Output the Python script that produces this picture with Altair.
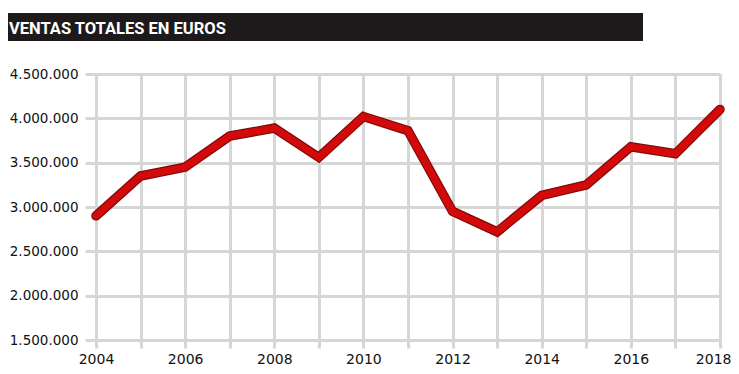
import altair as alt
import pandas as pd

years = list(range(2004, 2019))
ventas = [2900000, 3350000, 3450000, 3800000, 3890000, 3560000, 4020000, 3860000,
          2950000, 2720000, 3130000, 3250000, 3680000, 3600000, 4100000]
y_ticks = [1500000, 2000000, 2500000, 3000000, 3500000, 4000000, 4500000]
title_text = "VENTAS TOTALES EN EUROS"

df = pd.DataFrame({"year": years, "ventas": ventas})

x_enc = alt.X("year:Q", scale=alt.Scale(domain=[2004, 2018], nice=False, zero=False),
              axis=alt.Axis(values=years, title=None, domain=False, grid=True,
                            gridColor="#d6d6d6", gridWidth=3, tickColor="#d6d6d6",
                            tickWidth=3, tickSize=8, labelFontSize=14, labelFont="DejaVu Sans",
                            labelColor="#111111", labelPadding=4, labelFlush=False,
                            labelAlign={"condition": {"test": "datum.value == 2018", "value": "right"},
                                        "value": "center"},
                            labelOffset={"condition": {"test": "datum.value == 2018", "value": 11},
                                         "value": 0},
                            labelExpr="datum.value % 2 == 0 ? datum.value : ''"))
y_enc = alt.Y("ventas:Q", scale=alt.Scale(domain=[1500000, 4500000], nice=False, zero=False),
              axis=alt.Axis(values=y_ticks, title=None, domain=False, grid=True,
                            gridColor="#d6d6d6", gridWidth=3, tickColor="#d6d6d6",
                            tickWidth=3, tickSize=11, labelFontSize=13.5, labelFont="DejaVu Sans",
                            labelColor="#111111", labelPadding=7,
                            labelExpr="replace(format(datum.value, ','), regexp(',', 'g'), '.')"))

base = alt.Chart(df)
outline = base.mark_line(color="#850808", strokeWidth=9.5, strokeCap="round",
                         strokeJoin="miter").encode(x=x_enc, y=y_enc)
inner = base.mark_line(color="#d20a0a", strokeWidth=7, strokeCap="round",
                       strokeJoin="miter").encode(x="year:Q", y="ventas:Q")

one = pd.DataFrame({"t": [title_text]})
bar = alt.Chart(one).mark_rect(color="#1e1a1b").encode(
    x=alt.value(-88), x2=alt.value(547), y=alt.value(-61), y2=alt.value(-33))
txt = alt.Chart(one).mark_text(align="left", baseline="alphabetic", color="white",
                               font="Roboto", fontWeight="bold", fontSize=16.5).encode(
    x=alt.value(-87), y=alt.value(-40), text="t:N")

chart = alt.layer(outline, inner, bar, txt).properties(
    width=624, height=266,
    autosize=alt.AutoSizeParams(type="none"),
    padding={"left": 88, "top": 66, "right": 11, "bottom": 26},
).configure_view(stroke=None).configure(background="white")

chart.save("out.html", embed_options={"renderer": "svg", "actions": False})
